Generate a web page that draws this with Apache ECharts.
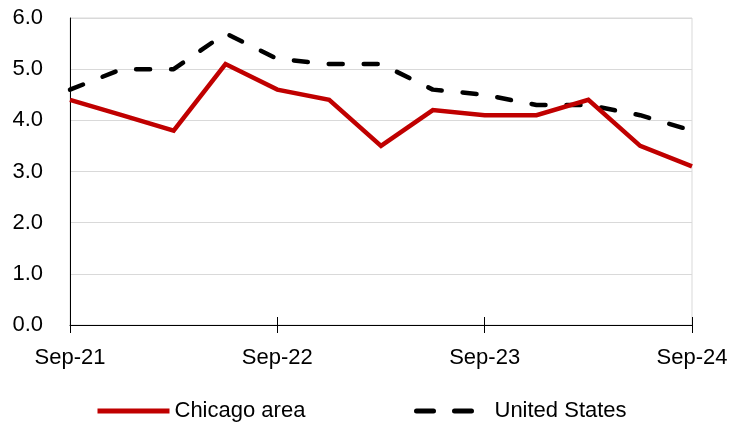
<!DOCTYPE html>
<html>
<head>
<meta charset="utf-8">
<script src="https://cdn.jsdelivr.net/npm/echarts@6/dist/echarts.min.js"></script>
<style>
  html, body { margin: 0; padding: 0; background: #fff; }
  #chart { width: 745px; height: 423px; }
</style>
</head>
<body>
<div id="chart"></div>
<script>
// quarterly, Sep-21 .. Sep-24
const quarters = ['Sep-21', 'Dec-21', 'Mar-22', 'Jun-22', 'Sep-22', 'Dec-22', 'Mar-23',
  'Jun-23', 'Sep-23', 'Dec-23', 'Mar-24', 'Jun-24', 'Sep-24'];
const chicago = [4.4, 4.1, 3.8, 5.1, 4.6, 4.4, 3.5, 4.2, 4.1, 4.1, 4.4, 3.5, 3.1];
const unitedStates = [4.6, 5.0, 5.0, 5.7, 5.2, 5.1, 5.1, 4.6, 4.5, 4.3, 4.3, 4.1, 3.8];

const FONT = '"Liberation Sans", Arial, sans-serif';

const chart = echarts.init(document.getElementById('chart'));

const everyYear = (i) => i % 4 === 0;
const legendText = { fontSize: 22, color: '#000', fontFamily: FONT };

chart.setOption({
  animation: false,
  textStyle: { fontFamily: FONT },
  grid: {
    left: 70, right: 53, top: 18, bottom: 98,
    show: true, borderColor: '#d9d9d9', borderWidth: 1
  },
  // two legends so each key gets its own width
  legend: [{
    left: 95, top: 400, padding: 0,
    itemWidth: 72, itemHeight: 14,
    itemStyle: { opacity: 0 },
    lineStyle: { width: 5 },
    textStyle: legendText,
    data: ['Chicago area']
  }, {
    left: 414, top: 400, padding: 0,
    itemWidth: 57, itemHeight: 14,
    itemStyle: { opacity: 0 },
    lineStyle: { width: 5, type: [17, 21], cap: 'round' },
    textStyle: Object.assign({ padding: [0, 0, 0, 16] }, legendText),
    data: ['United States']
  }],
  xAxis: [{
    type: 'category',
    data: quarters,
    boundaryGap: false,
    axisLine: { lineStyle: { color: '#000', width: 1 } },
    axisTick: { interval: everyYear, length: 8, lineStyle: { color: '#000' } },
    axisLabel: { interval: everyYear, margin: 22, fontSize: 22, color: '#000', fontFamily: FONT },
    splitLine: { show: false }
  }, {
    // second copy only for the upward half of the crossing ticks
    type: 'category',
    data: quarters,
    boundaryGap: false,
    position: 'bottom',
    axisLine: { show: false },
    axisTick: { inside: true, interval: everyYear, length: 8, lineStyle: { color: '#000' } },
    axisLabel: { show: false },
    splitLine: { show: false }
  }],
  yAxis: {
    type: 'value',
    min: 0, max: 6, interval: 1,
    axisLine: { show: true, lineStyle: { color: '#000', width: 1 } },
    axisTick: { show: false },
    axisLabel: {
      margin: 27, fontSize: 22, color: '#000', fontFamily: FONT,
      formatter: (v) => v.toFixed(1)
    },
    splitLine: { lineStyle: { color: '#d9d9d9', width: 1 } }
  },
  series: [{
    name: 'Chicago area',
    type: 'line',
    data: chicago,
    symbol: 'none',
    lineStyle: { color: '#c00000', width: 4.5, join: 'miter' },
    itemStyle: { color: '#c00000' },
    z: 3
  }, {
    name: 'United States',
    type: 'line',
    data: unitedStates,
    symbol: 'none',
    lineStyle: { color: '#000', width: 4.5, type: [14, 21], cap: 'round' },
    itemStyle: { color: '#000' },
    z: 2
  }]
});
</script>
</body>
</html>
